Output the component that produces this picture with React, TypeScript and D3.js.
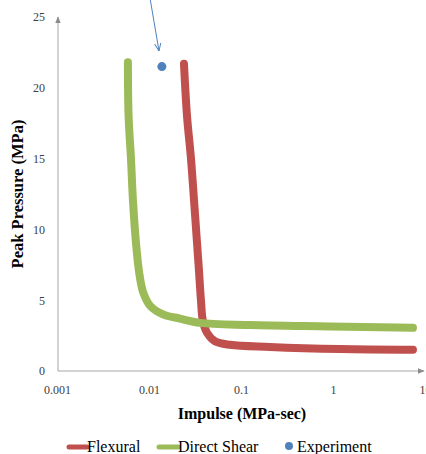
import React, { useRef, useEffect } from "react";
import * as d3 from "d3";

// Impulse (MPa-sec) vs peak pressure (MPa)
const flexuralImpulse = [0.024, 0.0259, 0.0286, 0.0309, 0.0333, 0.035, 0.0367, 0.0386, 0.0427, 0.0521, 0.076, 0.206, 1.19, 7.4];
const flexuralPressure = [21.7, 18, 15, 12, 9, 7, 5, 3.5, 2.7, 2.1, 1.85, 1.7, 1.55, 1.5];

const shearImpulse = [0.0059, 0.006, 0.00637, 0.0067, 0.00723, 0.0078, 0.0086, 0.0103, 0.0142, 0.0217, 0.0358, 0.125, 0.93, 7.4];
const shearPressure = [21.8, 18, 15, 12, 9, 7, 5.6, 4.6, 4.0, 3.7, 3.4, 3.25, 3.15, 3.05];

const experimentImpulse = [0.0138];
const experimentPressure = [21.5];

const xTicks = [0.001, 0.01, 0.1, 1, 10];
const yTicks = [0, 5, 10, 15, 20, 25];

const legendItems = ["Flexural", "Direct Shear", "Experiment"];

export default function App() {
  const ref = useRef<SVGSVGElement>(null);

  useEffect(() => {
    const width = 426, height = 454;
    const svg = d3.select(ref.current);
    svg.selectAll("*").remove();
    svg.attr("width", width).attr("height", height);

    const red = "#C0504D", green = "#9BBB59", blue = "#4F81BD";

    const x = d3.scaleLog().domain([0.001, 10]).range([57, 425]);
    const y = d3.scaleLinear().domain([0, 25]).range([371, 17]);

    const defs = svg.append("defs");
    defs.append("marker")
      .attr("id", "axArrow")
      .attr("viewBox", "0 0 10 10")
      .attr("refX", 9).attr("refY", 5)
      .attr("markerWidth", 7).attr("markerHeight", 7)
      .attr("orient", "auto")
      .append("path").attr("d", "M0,1 L10,5 L0,9 Z").attr("fill", "#8c8c8c");
    defs.append("marker")
      .attr("id", "blueArrow")
      .attr("viewBox", "0 0 10 10")
      .attr("refX", 10).attr("refY", 5)
      .attr("markerWidth", 8).attr("markerHeight", 8)
      .attr("markerUnits", "userSpaceOnUse")
      .attr("orient", "auto")
      .append("path").attr("d", "M0,1 L10,5 L0,9").attr("fill", "none")
      .attr("stroke", blue).attr("stroke-width", 1.2);

    // axis lines with arrowheads
    svg.append("line")
      .attr("x1", 58).attr("x2", 58).attr("y1", y(0)).attr("y2", 17)
      .attr("stroke", "#a6a6a6").attr("stroke-width", 1).attr("marker-end", "url(#axArrow)");
    svg.append("line")
      .attr("x1", 58).attr("x2", 424).attr("y1", y(0)).attr("y2", y(0))
      .attr("stroke", "#a6a6a6").attr("stroke-width", 1).attr("marker-end", "url(#axArrow)");

    const gy = svg.append("g")
      .attr("transform", "translate(58,0)")
      .call(d3.axisLeft(y).tickValues(yTicks).tickSize(0).tickPadding(13));
    gy.select(".domain").remove();
    gy.attr("font-family", null).attr("font-size", null);
    gy.selectAll("text").style("font-size", "12px").attr("fill", "#404040");

    const gx = svg.append("g")
      .attr("transform", `translate(0,${y(0)})`)
      .call(d3.axisBottom(x).tickValues(xTicks).tickFormat(d3.format("~g") as any).tickSize(0).tickPadding(14));
    gx.select(".domain").remove();
    gx.attr("font-family", null).attr("font-size", null);
    gx.selectAll("text").style("font-size", "12px").attr("fill", "#404040");

    const line = d3.line<[number, number]>()
      .x(d => x(d[0])).y(d => y(d[1]))
      .curve(d3.curveCatmullRom.alpha(0.5));

    const flex = flexuralImpulse.map((v, i) => [v, flexuralPressure[i]] as [number, number]);
    const shear = shearImpulse.map((v, i) => [v, shearPressure[i]] as [number, number]);

    svg.append("path").attr("d", line(flex)).attr("fill", "none")
      .attr("stroke", red).attr("stroke-width", 8).attr("stroke-linecap", "round").attr("stroke-linejoin", "round");
    svg.append("path").attr("d", line(shear)).attr("fill", "none")
      .attr("stroke", green).attr("stroke-width", 8).attr("stroke-linecap", "round").attr("stroke-linejoin", "round");

    svg.selectAll("circle.exp")
      .data(experimentImpulse)
      .enter().append("circle")
      .attr("class", "exp")
      .attr("cx", d => x(d)).attr("cy", (d, i) => y(experimentPressure[i]))
      .attr("r", 4.5).attr("fill", blue);

    // annotation arrow
    svg.append("line")
      .attr("x1", 150).attr("y1", -2).attr("x2", 159).attr("y2", 51)
      .attr("stroke", blue).attr("stroke-width", 1).attr("marker-end", "url(#blueArrow)");

    // axis titles
    svg.append("text")
      .attr("x", 242).attr("y", 419)
      .attr("text-anchor", "middle")
      .style("font-weight", "bold").style("font-size", "16px")
      .text("Impulse (MPa-sec)");
    svg.append("text")
      .attr("transform", "translate(23,194) rotate(-90)")
      .attr("text-anchor", "middle")
      .style("font-weight", "bold").style("font-size", "16.5px")
      .text("Peak Pressure (MPa)");

    // legend
    const lg = svg.append("g").style("font-size", "16px");
    lg.append("line").attr("x1", 69).attr("x2", 87).attr("y1", 447).attr("y2", 447)
      .attr("stroke", red).attr("stroke-width", 5).attr("stroke-linecap", "round");
    lg.append("text").attr("x", 87).attr("y", 452).text(legendItems[0]);
    lg.append("line").attr("x1", 159).attr("x2", 178).attr("y1", 447).attr("y2", 447)
      .attr("stroke", green).attr("stroke-width", 5).attr("stroke-linecap", "round");
    lg.append("text").attr("x", 178).attr("y", 452).text(legendItems[1]);
    lg.append("circle").attr("cx", 289).attr("cy", 446).attr("r", 4).attr("fill", blue);
    lg.append("text").attr("x", 297).attr("y", 452).text(legendItems[2]);
  }, []);

  return (
    <svg
      ref={ref}
      style={{ position: "absolute", left: 0, top: 0, fontFamily: "'Liberation Serif', 'Times New Roman', serif" }}
    ></svg>
  );
}
